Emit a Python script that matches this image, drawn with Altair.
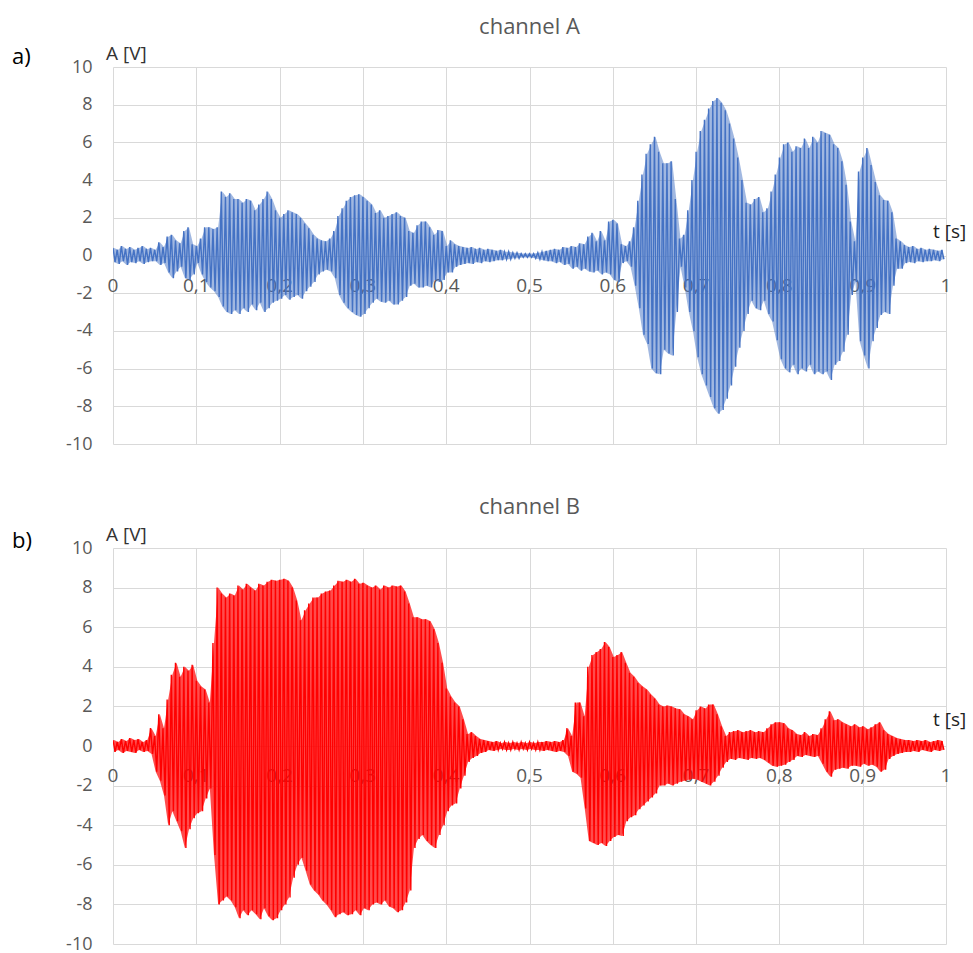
import altair as alt
import pandas as pd

# Each cycle of the recorded signal is stored as its positive and negative peak.
STEP = 0.005  # seconds per cycle

# channel A, peaks per cycle [V], t = 0 ... 0.995 s
a_upper = [
    0.4, 0.3, 0.5, 0.35, 0.45, 0.3, 0.4, 0.5, 0.35, 0.4,        # 0.00
    0.3, 0.7, 0.45, 1.0, 1.1, 0.8, 0.65, 1.3, 1.5, 0.6,         # 0.05
    0.5, 0.9, 1.5, 1.5, 1.4, 1.5, 3.4, 3.1, 3.3, 3.0,           # 0.10
    3.0, 2.8, 3.0, 2.9, 2.4, 2.7, 3.0, 3.4, 3.0, 2.4,           # 0.15
    2.0, 2.2, 2.4, 2.3, 2.2, 2.0, 1.7, 1.45, 1.1, 0.9,          # 0.20
    0.8, 0.75, 0.9, 1.3, 2.1, 2.5, 2.9, 3.1, 3.2, 3.25,         # 0.25
    3.1, 2.9, 2.7, 2.25, 2.4, 2.0, 2.1, 2.2, 2.3, 2.1,          # 0.30
    2.0, 1.3, 1.2, 1.6, 1.8, 1.8, 1.5, 1.1, 1.35, 1.3,          # 0.35
    0.5, 0.8, 0.6, 0.5, 0.45, 0.4, 0.45, 0.35, 0.4, 0.3,        # 0.40
    0.35, 0.3, 0.25, 0.3, 0.2, 0.2, 0.15, 0.15, 0.1, 0.1,       # 0.45
    0.1, 0.1, 0.15, 0.2, 0.25, 0.3, 0.35, 0.3, 0.45, 0.4,       # 0.50
    0.5, 0.45, 0.65, 0.6, 1.0, 1.2, 0.75, 1.3, 0.8, 1.8,        # 0.55
    1.9, 1.7, 0.6, 0.5, 0.75, 1.5, 2.9, 4.3, 5.4, 5.9,          # 0.60
    6.3, 5.5, 4.9, 4.9, 5.0, 3.0, 0.9, 1.1, 2.4, 4.0,           # 0.65
    5.5, 6.6, 7.2, 7.8, 8.2, 8.35, 8.1, 7.7, 7.0, 6.2,          # 0.70
    5.2, 4.0, 2.8, 2.7, 3.0, 3.1, 2.3, 2.5, 3.4, 4.3,           # 0.75
    5.2, 5.9, 6.0, 5.5, 5.8, 5.7, 6.2, 5.7, 6.3, 6.0,           # 0.80
    6.6, 6.5, 6.4, 5.9, 5.7, 5.0, 3.75, 1.8, 0.75, 4.45,        # 0.85
    5.2, 5.7, 4.8, 3.9, 3.2, 2.95, 2.9, 2.3, 0.9, 0.75,         # 0.90
    0.55, 0.45, 0.5, 0.35, 0.4, 0.3, 0.35, 0.3, 0.25, 0.3,      # 0.95
]
a_lower = [
    -0.35, -0.45, -0.3, -0.5, -0.35, -0.4, -0.3, -0.45, -0.35, -0.3,
    -0.3, -0.5, -0.4, -0.9, -1.2, -0.85, -0.6, -1.2, -1.3, -1.0,
    -0.4, -1.0, -1.4, -1.7, -1.9, -2.2, -2.7, -3.0, -3.1, -2.9,
    -3.1, -2.8, -3.0, -2.6, -2.9, -2.5, -3.0, -2.8, -2.5, -2.4,
    -2.3, -2.1, -2.35, -2.2, -2.1, -2.3, -1.9, -1.65, -1.4, -1.0,
    -0.85, -0.75, -0.85, -1.2, -2.1, -2.5, -2.8, -3.0, -3.15, -3.25,
    -3.1, -2.8, -2.5, -2.3, -2.45, -2.5, -2.4, -2.6, -2.6, -2.4,
    -2.2, -1.6, -1.5, -1.7, -1.7, -1.6, -1.7, -1.3, -1.4, -1.3,
    -0.9, -0.9, -0.6, -0.5, -0.45, -0.4, -0.45, -0.35, -0.4, -0.3,
    -0.35, -0.3, -0.25, -0.25, -0.2, -0.2, -0.15, -0.15, -0.1, -0.1,
    -0.1, -0.15, -0.2, -0.25, -0.3, -0.3, -0.4, -0.35, -0.5, -0.45,
    -0.7, -0.6, -0.8, -0.7, -0.85, -0.9, -0.8, -1.0, -0.9, -1.0,
    -1.3, -1.4, -0.4, -0.3, -0.6, -1.6, -2.8, -4.2, -4.7, -6.0,
    -6.25, -6.3, -5.0, -5.2, -5.3, -3.0, -0.6, -1.7, -3.0, -4.0,
    -5.4, -6.3, -6.9, -7.5, -8.1, -8.4, -8.2, -7.6, -6.9, -5.9,
    -4.9, -4.0, -3.1, -2.4, -2.8, -2.9, -2.4, -3.1, -3.5, -4.5,
    -5.5, -6.0, -6.2, -5.8, -6.3, -6.0, -6.15, -5.8, -6.3, -6.15,
    -6.3, -6.15, -6.6, -5.8, -5.6, -5.1, -4.2, -2.1, -1.4, -4.55,
    -5.3, -6.0, -4.55, -3.85, -3.15, -3.0, -3.1, -1.6, -0.7, -0.7,
    -0.4, -0.35, -0.4, -0.3, -0.35, -0.3, -0.3, -0.25, -0.3, -0.2,
]

# channel B, peaks per cycle [V], t = 0 ... 0.995 s
b_upper = [
    0.3, 0.2, 0.35, 0.25, 0.4, 0.3, 0.35, 0.2, 0.3, 0.9,        # 0.00
    0.5, 1.6, 0.9, 2.35, 3.6, 4.2, 3.5, 4.0, 3.8, 4.1,          # 0.05
    3.3, 3.0, 2.85, 2.2, 5.2, 8.0, 7.7, 7.5, 7.7, 7.6,          # 0.10
    8.1, 7.9, 8.2, 8.0, 7.85, 8.2, 8.1, 8.3, 8.4, 8.35,         # 0.15
    8.4, 8.45, 8.35, 8.0, 7.35, 6.35, 6.85, 7.2, 7.5, 7.5,      # 0.20
    7.7, 7.8, 7.85, 8.1, 8.35, 8.3, 8.4, 8.3, 8.45, 8.2,        # 0.25
    8.25, 8.1, 8.0, 8.1, 7.9, 8.1, 8.0, 8.1, 8.05, 8.1,         # 0.30
    7.8, 7.2, 6.5, 6.5, 6.4, 6.4, 6.3, 5.9, 5.2, 4.2,           # 0.35
    2.9, 2.5, 2.2, 2.0, 1.35, 0.6, 0.7, 0.5, 0.35, 0.3,         # 0.40
    0.25, 0.2, 0.25, 0.15, 0.2, 0.15, 0.2, 0.15, 0.2, 0.15,     # 0.45
    0.2, 0.15, 0.2, 0.2, 0.25, 0.2, 0.25, 0.2, 0.3, 0.9,        # 0.50
    0.5, 2.2, 2.2, 1.5, 4.0, 4.6, 4.75, 4.9, 5.25, 5.0,         # 0.55
    4.5, 4.6, 4.75, 4.2, 3.7, 3.5, 3.2, 3.0, 2.85, 2.6,         # 0.60
    2.4, 2.1, 2.0, 2.05, 2.0, 1.9, 1.85, 1.6, 1.5, 1.35,        # 0.65
    1.8, 2.0, 1.9, 2.1, 2.1, 1.6, 1.0, 0.5, 0.7, 0.75,          # 0.70
    0.8, 0.7, 0.75, 0.8, 0.7, 0.75, 0.7, 0.9, 1.1, 1.2,         # 0.75
    1.2, 1.15, 0.9, 0.8, 0.6, 0.55, 0.7, 0.5, 0.6, 0.55,        # 0.80
    0.9, 1.35, 1.75, 1.3, 1.35, 1.2, 1.1, 1.0, 1.1, 0.95,       # 0.85
    1.0, 0.85, 0.95, 1.1, 1.2, 0.8, 0.6, 0.5, 0.4, 0.35,        # 0.90
    0.3, 0.3, 0.25, 0.3, 0.25, 0.3, 0.2, 0.25, 0.3, 0.25,       # 0.95
]
b_lower = [
    -0.3, -0.2, -0.35, -0.25, -0.3, -0.35, -0.2, -0.3, -0.25, -0.4,
    -1.3, -1.75, -2.5, -4.0, -3.3, -3.8, -4.3, -5.15, -4.2, -3.65,
    -3.4, -3.3, -2.65, -2.15, -5.5, -8.0, -7.8, -7.6, -7.8, -8.15,
    -8.7, -8.3, -8.55, -8.3, -8.5, -8.75, -8.2, -8.6, -8.8, -8.7,
    -8.3, -8.0, -7.65, -6.65, -6.0, -5.65, -6.3, -7.0, -7.3, -7.5,
    -7.8, -8.0, -8.3, -8.65, -8.5, -8.4, -8.55, -8.5, -8.3, -8.55,
    -8.2, -8.3, -8.0, -7.9, -8.0, -7.8, -8.1, -8.2, -8.4, -8.3,
    -7.9, -7.3, -5.15, -4.7, -4.5, -4.8, -5.0, -5.15, -4.5, -4.0,
    -3.3, -3.0, -2.9, -2.15, -1.5, -0.8, -0.6, -0.5, -0.35, -0.3,
    -0.2, -0.25, -0.2, -0.15, -0.2, -0.2, -0.15, -0.2, -0.15, -0.2,
    -0.15, -0.2, -0.2, -0.25, -0.2, -0.25, -0.3, -0.25, -0.3, -0.5,
    -1.3, -1.4, -1.6, -3.15, -4.8, -4.9, -5.0, -4.9, -5.05, -4.8,
    -4.6, -4.5, -4.55, -3.8, -3.6, -3.5, -3.2, -3.0, -2.8, -2.6,
    -2.4, -2.0, -2.0, -1.9, -2.0, -1.9, -1.8, -1.75, -1.7, -1.65,
    -1.7, -1.8, -1.9, -2.0, -1.8, -1.5, -1.1, -0.8, -0.65, -0.7,
    -0.6, -0.65, -0.7, -0.6, -0.65, -0.6, -0.7, -0.85, -1.0, -1.05,
    -1.0, -0.95, -0.8, -0.7, -0.5, -0.55, -0.45, -0.5, -0.55, -0.5,
    -0.9, -1.3, -1.55, -1.2, -1.15, -1.1, -1.15, -1.0, -1.0, -1.05,
    -0.9, -1.0, -0.95, -1.05, -1.3, -1.2, -0.65, -0.5, -0.4, -0.35,
    -0.3, -0.3, -0.25, -0.3, -0.2, -0.25, -0.3, -0.2, -0.25, -0.2,
]

x_ticks = [0, 0.1, 0.2, 0.3, 0.4, 0.5, 0.6, 0.7, 0.8, 0.9, 1]
x_tick_labels = ["0", "0,1", "0,2", "0,3", "0,4", "0,5", "0,6", "0,7", "0,8", "0,9", "1"]
y_ticks = [-10, -8, -6, -4, -2, 0, 2, 4, 6, 8, 10]

FONT = "Open Sans"
GRID = "#d9d9d9"
GRAY = "#595959"
WIDTH = 833


def waveform(upper, lower):
    """Zig-zag trace: positive peak, then negative peak half a cycle later."""
    rows = []
    for i, (hi, lo) in enumerate(zip(upper, lower)):
        rows.append({"t": i * STEP, "A": hi})
        rows.append({"t": i * STEP + STEP / 2, "A": lo})
    return pd.DataFrame(rows)


def envelope(upper, lower):
    """Band between the peaks of each cycle; the dense trace reads as a fill."""
    return pd.DataFrame({
        "t": [i * STEP + STEP / 4 for i in range(len(upper))],
        "hi": upper,
        "lo": lower,
    })


def note(text, x, y, size, color, align="left"):
    return alt.Chart(pd.DataFrame({"s": [text]})).mark_text(
        font=FONT, fontSize=size, color=color, align=align, baseline="alphabetic"
    ).encode(text="s:N", x=alt.value(x), y=alt.value(y))


def panel(upper, lower, color, fill_opacity, height, title, letter, pos):
    x = alt.X(
        "t:Q",
        scale=alt.Scale(domain=[0, 1], nice=False, zero=False),
        axis=alt.Axis(values=x_ticks, labels=False, ticks=False, domain=False,
                      grid=True, gridColor=GRID, gridWidth=1, title=None),
    )
    y_scale = alt.Scale(domain=[-10, 10], nice=False)
    y_axis = alt.Axis(values=y_ticks, ticks=False, domain=False, grid=True,
                      gridColor=GRID, gridWidth=1, title=None,
                      labelFont=FONT, labelFontSize=18, labelColor=GRAY,
                      labelPadding=21, labelExpr="datum.value + ''")

    band = alt.Chart(envelope(upper, lower)).mark_area(
        color=color, opacity=fill_opacity, clip=True
    ).encode(x=x, y=alt.Y("hi:Q", scale=y_scale, axis=y_axis), y2="lo:Q")

    signal = alt.Chart(waveform(upper, lower)).mark_line(
        color=color, strokeWidth=1.4, clip=True
    ).encode(x=x, y=alt.Y("A:Q", scale=y_scale, axis=y_axis))

    # time labels sit on the zero line, underneath the trace
    tick_text = alt.Chart(pd.DataFrame({"t": x_ticks, "label": x_tick_labels})).mark_text(
        font=FONT, fontSize=19, color=GRAY, align="center", baseline="alphabetic"
    ).encode(x=x, y=alt.value(pos["ticks"]), text="label:N")

    return alt.layer(
        tick_text,
        band,
        signal,
        note(title, WIDTH / 2, pos["title"], 22, GRAY, align="center"),
        note(letter, -101, pos["letter"], 22, "#000000"),
        note("A [V]", -7, pos["ylab"], 19, "#333333"),
        note("t [s]", 820, pos["tlab"], 19, "#222222"),
    ).properties(width=WIDTH, height=height)


top = panel(a_upper, a_lower, "#4472C4", 0.5, 377, "channel A", "a)",
            {"ticks": 225, "title": -33, "letter": -3, "ylab": -7, "tlab": 171})
bottom = panel(b_upper, b_lower, "#FF0000", 0.7, 396, "channel B", "b)",
               {"ticks": 234, "title": -34, "letter": 0, "ylab": -7, "tlab": 178})

chart = alt.vconcat(top, bottom, spacing=104, bounds="flush").properties(
    padding={"left": 12, "top": 16, "right": 5, "bottom": 0},
    background="#ffffff",
).configure_view(stroke=None)

chart.save("out.html", embed_options={"renderer": "svg", "actions": False})
